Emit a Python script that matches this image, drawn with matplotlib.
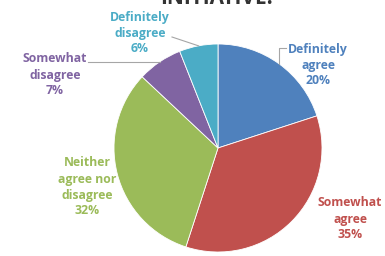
import matplotlib.pyplot as plt
import numpy as np

categories = ["Definitely\nagree", "Somewhat\nagree", "Neither\nagree nor\ndisagree",
              "Somewhat\ndisagree", "Definitely\ndisagree"]
shares = [20, 35, 32, 7, 6]
colors = ["#4F81BD", "#C0504D", "#9BBB59", "#8064A2", "#4BACC6"]
text_colors = ["#4F81BD", "#C0504D", "#9BBB59", "#8064A2", "#4BACC6"]
title = "INITIATIVE."

# label centres in pixel coords (x, y from top)
label_pos = [(318, 65), (350, 219), (87, 187), (55, 75), (140, 33)]

W, H = 385, 256
cx, cy, r = 218, H - 148, 104

fig = plt.figure(figsize=(W / 100, H / 100), dpi=100)
ax = fig.add_axes([0, 0, 1, 1])
ax.set_xlim(0, W)
ax.set_ylim(0, H)
ax.set_aspect("equal")
ax.axis("off")

wedges, _ = ax.pie(shares, colors=colors, startangle=90, counterclock=False,
                   center=(cx, cy), radius=r,
                   wedgeprops=dict(edgecolor="white", linewidth=0.6))
ax.set_xlim(0, W)
ax.set_ylim(0, H)

for lab, val, col, (lx, ly) in zip(categories, shares, text_colors, label_pos):
    ax.text(lx, H - ly, f"{lab}\n{val}%", color=col, fontsize=8.8, fontweight="bold",
            family="Open Sans", ha="center", va="center", linespacing=1.3)

# leader lines
def edge(i):
    w = wedges[i]
    a = np.deg2rad((w.theta1 + w.theta2) / 2)
    return cx + r * np.cos(a), cy + r * np.sin(a)

ex, ey = edge(0)
ax.plot([ex, ex, 286], [ey, H - 48, H - 48], color="#A6A6A6", lw=0.8)
ex, ey = edge(3)
ax.plot([88, ex], [H - 62, H - 62], color="#A6A6A6", lw=0.8)
ex, ey = edge(4)
ax.plot([172, ex], [H - 37, ey], color="#A6A6A6", lw=0.8)

ax.text(217, H - 9, title, fontsize=15, fontweight="bold", color="#333333",
        ha="center", va="bottom", family="Open Sans")

fig.savefig("out.png", dpi=100)
